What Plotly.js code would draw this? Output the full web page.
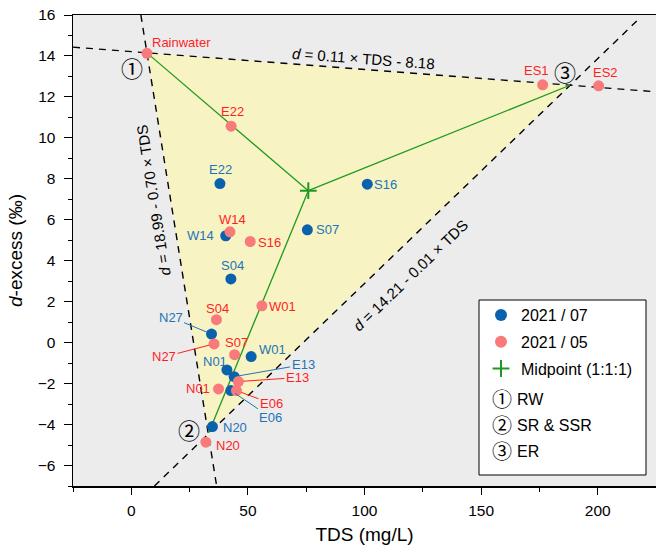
<!DOCTYPE html>
<html><head><meta charset="utf-8">
<script src="https://cdn.plot.ly/plotly-3.0.1.min.js"></script>
<style>body{margin:0;background:#fff;} #chart{width:656px;height:552px;}</style>
</head><body><div id="chart"></div>
<script>
// ---- data ----
const julLabels = ['E22','S16','S07','W14','S04','N27','W01','N01','E13','E06','N20'];
const julTDS    = [38.0, 101.2, 75.5, 40.5, 42.7, 34.4, 51.4, 41.0, 44.1, 42.7, 34.8];
const julD      = [7.77, 7.74, 5.51, 5.22, 3.11, 0.42, -0.68, -1.33, -1.66, -2.34, -4.10];

const mayLabels = ['Rainwater','E22','W14','S16','W01','S04','N27','S07','E13','N01','E06','N20','ES1','ES2'];
const mayTDS    = [6.7, 42.8, 42.3, 51.0, 56.0, 36.5, 35.5, 44.3, 45.9, 37.4, 45.1, 32.0, 176.4, 200.4];
const mayD      = [14.13, 10.57, 5.41, 4.94, 1.80, 1.12, -0.06, -0.59, -1.90, -2.26, -2.34, -4.86, 12.59, 12.54];

const endTDS = [6.7, 33.2, 188.1];     // ① RW, ② SR & SSR, ③ ER
const endD   = [14.15, -4.4, 12.57];
const midTDS = [75.9];
const midD   = [7.42];

const lineA_TDS = [-25, 225];  const lineA_D = [14.43, 12.25];
const lineB_TDS = [4.1, 36.6]; const lineB_D = [16, -7];
const lineC_TDS = [9.9, 217.6]; const lineC_D = [-7, 15.8];

const eqTexts = ['<i>d</i> = 0.11 × TDS - 8.18', '<i>d</i> = 18.99 - 0.70 × TDS', '<i>d</i> = 14.21 - 0.01 × TDS'];
const circled = ['①','②','③'];
const legendExtra = ['RW','SR & SSR','ER'];

// ---- styles / positions ----
const FONT = 'Liberation Sans, Arial, sans-serif';
const CFONT = 'Noto Sans CJK SC, DejaVu Sans, sans-serif';
const BLUE = '#0a62ad', BLUE_T = '#2473b6';
const RED = '#f87a7a', RED_T = '#ff1f1f';
const GREEN = '#1f9a1f';

// label offsets (px) in the same order as label arrays; third value = leader line drawn
const julOff = [[1,-14,0],[18,0,0],[20,0,0],[-25,0,0],[2,-13,0],[-41,-17,1],[21,-7,0],[-12,-8,0],[69,-12,1],[40,27,1],[23,1,0]];
const mayOff = [[35,-11,0],[1,-15,0],[3,-12,0],[19,1,0],[21,1,0],[1,-11,0],[-50,13,1],[2,-12,0],[59,-4,1],[-21,0,0],[35,13,1],[22,3,0],[-6,-14,0],[7,-13,0]];

const traces = [];
traces.push({x: endTDS.concat([endTDS[0]]), y: endD.concat([endD[0]]), mode:'lines', fill:'toself',
  fillcolor:'#f7f3c3', line:{width:0}, hoverinfo:'skip', showlegend:false});
[[lineA_TDS,lineA_D],[lineB_TDS,lineB_D],[lineC_TDS,lineC_D]].forEach(([x,y])=>{
  traces.push({x:x, y:y, mode:'lines', line:{color:'#000', width:1.4, dash:'7px,6px'}, showlegend:false, hoverinfo:'skip'});
});
for (let i=0;i<3;i++){
  traces.push({x:[endTDS[i], midTDS[0]], y:[endD[i], midD[0]], mode:'lines', line:{color:GREEN, width:1.3}, showlegend:false, hoverinfo:'skip'});
}
traces.push({x:julTDS, y:julD, mode:'markers', name:'2021 / 07', legendgroup:'a', marker:{color:BLUE, size:11}});
traces.push({x:mayTDS, y:mayD, mode:'markers', name:'2021 / 05', legendgroup:'b', marker:{color:RED, size:11}});
traces.push({x:midTDS, y:midD, mode:'markers', name:'Midpoint (1:1:1)', legendgroup:'c', marker:{color:GREEN, size:12, symbol:'cross-thin-open', line:{color:GREEN, width:2}}});

const ann = [];
function addLabels(labels, xs, ys, offs, col){
  labels.forEach((t,i)=>{
    const o = offs[i];
    ann.push({x:xs[i], y:ys[i], xref:'x', yref:'y', text:t, showarrow:true, ax:o[0], ay:o[1],
      arrowhead:0, arrowwidth:1, arrowcolor: o[2] ? col : 'rgba(0,0,0,0)', standoff:5,
      font:{family:FONT, size:13, color:col}});
  });
}
addLabels(julLabels, julTDS, julD, julOff, BLUE_T);
addLabels(mayLabels, mayTDS, mayD, mayOff, RED_T);

ann.push({x:99.4, y:13.9, xref:'x', yref:'y', text:eqTexts[0], showarrow:false, textangle:4.3, font:{family:FONT,size:15,color:'#000'}});
ann.push({x:9.6, y:6.93, xref:'x', yref:'y', text:eqTexts[1], showarrow:false, textangle:-99, font:{family:FONT,size:15,color:'#000'}});
ann.push({x:119.5, y:3.3, xref:'x', yref:'y', text:eqTexts[2], showarrow:false, textangle:-43.9, font:{family:FONT,size:15,color:'#000'}});
const circX = [0.4, 24.8, 186.1], circY = [13.46, -4.2, 13.27];
for (let i=0;i<3;i++){
  ann.push({x:circX[i], y:circY[i], xref:'x', yref:'y', text:circled[i], showarrow:false, font:{family:CFONT,size:22,color:'#000'}});
}
const PL=73, PT=15, PW=583, PH=471;
function px2paperX(p){return (p-PL)/PW;}
function px2paperY(p){return (PT+PH-p)/PH;}
const extraY = [398, 424, 450];
for (let i=0;i<3;i++){
  ann.push({x:px2paperX(502), y:px2paperY(extraY[i]), xref:'paper', yref:'paper', xanchor:'center', yanchor:'middle', text:circled[i], showarrow:false, font:{family:CFONT,size:20,color:'#000'}});
  ann.push({x:px2paperX(515), y:px2paperY(extraY[i]+1), xref:'paper', yref:'paper', xanchor:'left', yanchor:'middle', text:legendExtra[i], showarrow:false, font:{family:FONT,size:16,color:'#000'}});
}

const layout = {
  width:656, height:552, autosize:false,
  margin:{l:PL, r:0, t:PT, b:552-PT-PH},
  paper_bgcolor:'#fff', plot_bgcolor:'#ececec',
  font:{family:FONT, color:'#000'},
  showlegend:true,
  legend:{x:px2paperX(481), y:px2paperY(298), xanchor:'left', yanchor:'top', bgcolor:'rgba(0,0,0,0)', borderwidth:0,
    font:{family:FONT, size:16}, traceorder:'grouped', tracegroupgap:3, itemsizing:'constant'},
  xaxis:{range:[-25,225], dtick:50, tick0:0, ticks:'outside', ticklen:7, tickcolor:'#000', tickwidth:1,
    minor:{dtick:25, ticks:'outside', ticklen:4, tickcolor:'#000'}, ticklabelstandoff:3,
    showline:true, linecolor:'#000', linewidth:1.5, mirror:true, showgrid:false, zeroline:false,
    tickfont:{family:FONT, size:15.5}, title:{text:'TDS (mg/L)', font:{family:FONT,size:19}, standoff:9}},
  yaxis:{range:[-7,16], dtick:2, tick0:0, ticks:'outside', ticklen:8, tickcolor:'#000', tickwidth:1,
    minor:{dtick:1, ticks:'outside', ticklen:4, tickcolor:'#000'}, ticklabelstandoff:5,
    showline:true, linecolor:'#000', linewidth:1.5, mirror:true, showgrid:false, zeroline:false,
    tickfont:{family:FONT, size:15.5}, title:{text:'<i>d</i>-excess (‰)', font:{family:FONT,size:19}, standoff:10}},
  shapes:[{type:'rect', xref:'paper', yref:'paper', x0:px2paperX(479), x1:px2paperX(646), y0:px2paperY(475), y1:px2paperY(300),
    fillcolor:'#fff', line:{color:'#000', width:1}, layer:'above'}],
  annotations: ann
};
Plotly.newPlot('chart', traces, layout, {displayModeBar:false, staticPlot:true});
</script>
</body></html>
